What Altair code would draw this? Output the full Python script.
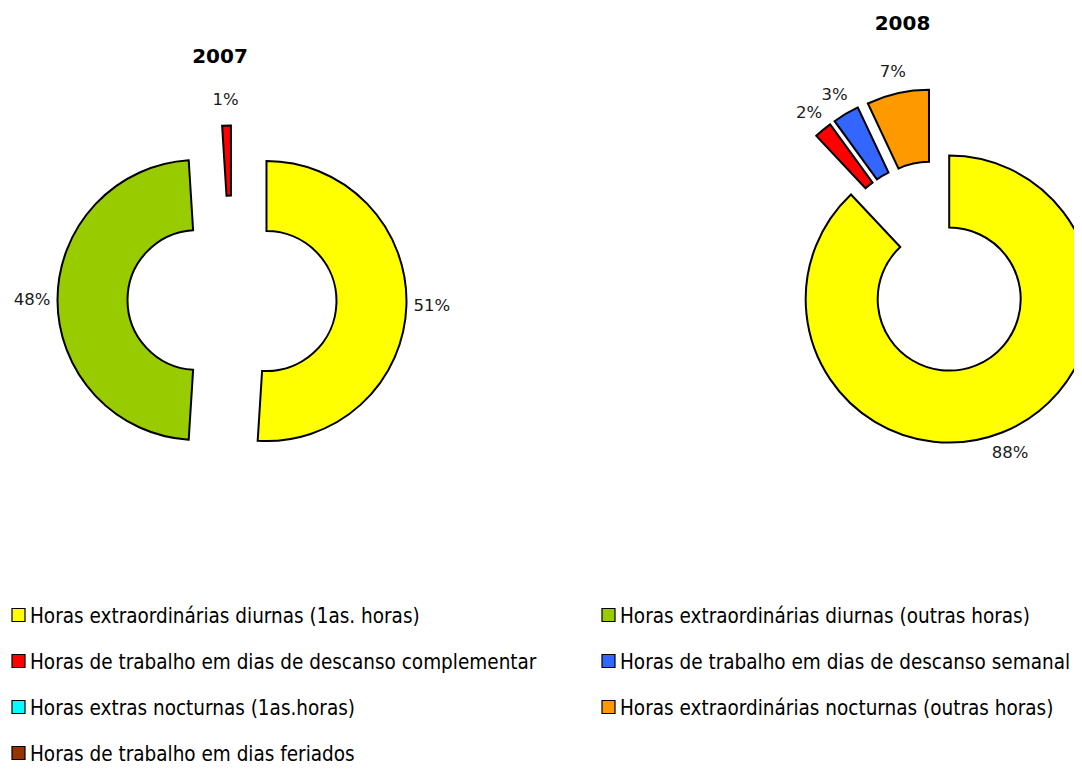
import altair as alt
import pandas as pd

# ---- data ----
categories = [
    "Horas extraordinárias diurnas (1as. horas)",
    "Horas extraordinárias diurnas (outras horas)",
    "Horas de trabalho em dias de descanso complementar",
    "Horas de trabalho em dias de descanso semanal",
    "Horas extras nocturnas (1as.horas)",
    "Horas extraordinárias nocturnas (outras horas)",
    "Horas de trabalho em dias feriados",
]
colors = ["#FFFF00", "#99CC00", "#FF0000", "#3366FF", "#00FFFF", "#FF9900", "#993300"]
years = ["2007", "2008"]
values_2007 = [51, 48, 1, 0, 0, 0, 0]
values_2008 = [88, 0, 2, 3, 0, 7, 0]

# ---- layout (pixels, chart coordinates) ----
layout = {
    "2007": dict(cx=224, cy=292, r_out=140, r_in=70, title_dx=-12),
    "2008": dict(cx=928.5, cy=259, r_out=143.5, r_in=71.5, title_dx=-34),
}
EXPLODE = 34.5
LABEL_R = 200
TITLE_DY = -243

rows = []
for y, vals in zip(years, [values_2007, values_2008]):
    for i, (c, v) in enumerate(zip(categories, vals)):
        rows.append({"year": y, "cat": c, "order": i, "value": v})
df = pd.DataFrame(rows)

color_scale = alt.Scale(domain=categories, range=colors)
base = alt.Chart(df)

layers = []
for y in years:
    L = layout[y]
    b = base.transform_filter(alt.datum.year == y).transform_window(
        cum="sum(value)", sort=[alt.SortField("order")], frame=[None, 0]
    ).transform_joinaggregate(
        total="sum(value)"
    ).transform_calculate(
        t1="2*PI*datum.cum/datum.total",
        t0="2*PI*(datum.cum-datum.value)/datum.total",
    ).transform_calculate(
        mid="(datum.t0+datum.t1)/2"
    ).transform_calculate(
        px=f"{L['cx']}+{EXPLODE}*sin(datum.mid)",
        py=f"{L['cy']}-{EXPLODE}*cos(datum.mid)",
        lx=f"{L['cx']}+{LABEL_R}*sin(datum.mid)",
        ly=f"{L['cy']}-{LABEL_R}*cos(datum.mid)",
        pct="format(datum.value/datum.total,'.0%')",
    ).transform_filter(alt.datum.value > 0)

    arcs = b.mark_arc(
        radius=L["r_out"], radius2=L["r_in"], stroke="black", strokeWidth=2
    ).encode(
        x=alt.X("px:Q", scale=None),
        y=alt.Y("py:Q", scale=None),
        theta=alt.Theta("t0:Q", scale=None),
        theta2="t1:Q",
        color=alt.Color("cat:N", scale=color_scale, legend=None),
    )
    labels = b.mark_text(
        font="DejaVu Sans", fontSize=16.5, color="#1a1a1a", align="center", baseline="middle"
    ).encode(
        x=alt.X("lx:Q", scale=None),
        y=alt.Y("ly:Q", scale=None),
        text="pct:N",
    )
    title = alt.Chart(pd.DataFrame({"year": [y]})).mark_text(
        font="DejaVu Sans", fontSize=20, fontWeight="bold", color="black",
        align="center", baseline="middle",
    ).encode(
        x=alt.value(L["cx"] + L["title_dx"]),
        y=alt.value(L["cy"] + TITLE_DY),
        text="year:N",
    )
    layers += [arcs, labels, title]

# ---- manual legend (2 columns) ----
leg = pd.DataFrame({"cat": categories, "idx": list(range(len(categories)))})
leg_base = alt.Chart(leg).transform_calculate(
    col="datum.idx % 2", row="floor(datum.idx / 2)"
).transform_calculate(
    base_y="615 + datum.row*46",
    sx="10.5 + datum.col*590",
    tx="22 + datum.col*590",
).transform_calculate(
    sy="datum.base_y - 8"
)
swatch = leg_base.mark_square(size=169, stroke="black", strokeWidth=1.2, opacity=1).encode(
    x=alt.X("sx:Q", scale=None),
    y=alt.Y("sy:Q", scale=None),
    color=alt.Color("cat:N", scale=color_scale, legend=None),
)
leg_text = leg_base.mark_text(
    font="Liberation Sans Narrow, DejaVu Sans Condensed, Liberation Sans, sans-serif",
    fontSize=20.5, align="left", baseline="alphabetic", color="black",
).encode(
    x=alt.X("tx:Q", scale=None),
    y=alt.Y("base_y:Q", scale=None),
    text="cat:N",
)
layers += [swatch, leg_text]

chart = alt.layer(*layers).properties(
    width=1066, height=758, padding=0, autosize=alt.AutoSizeParams(type="none")
).configure_view(stroke=None)

chart.save("out.html", embed_options={"renderer": "svg", "actions": False})
